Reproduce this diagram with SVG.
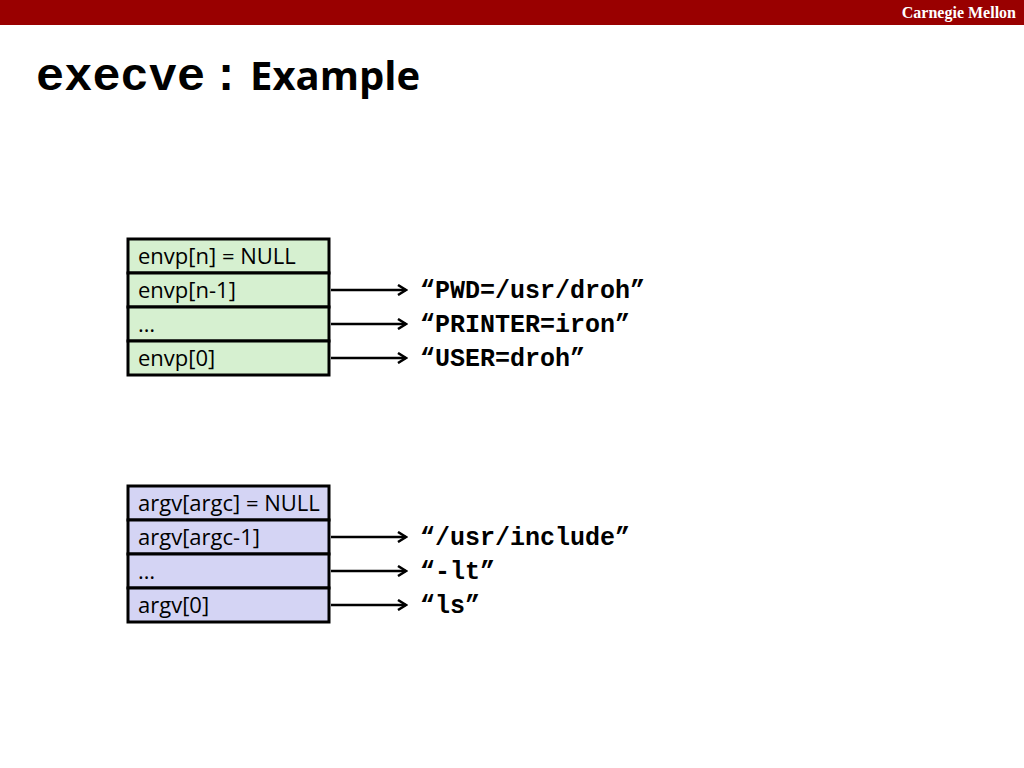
<svg xmlns="http://www.w3.org/2000/svg" width="1024" height="768" viewBox="0 0 1024 768">
<defs>
<marker id="arr" viewBox="0 0 12 12" refX="10" refY="6" markerWidth="12" markerHeight="12" markerUnits="userSpaceOnUse" orient="auto">
<path d="M2,1 L10,6 L2,11" fill="none" stroke="#000" stroke-width="2.5"/>
</marker>
<style>
.cell{stroke:#000;stroke-width:3}
.env{fill:#d6f0d0}
.arg{fill:#d4d4f4}
.lbl{font-family:"Open Sans","Liberation Sans",sans-serif;font-size:22px;fill:#000}
.code{font-family:"Liberation Mono","Courier New",monospace;font-weight:bold;font-size:25px;fill:#000}
.conn{stroke:#000;stroke-width:2.5;fill:none;marker-end:url(#arr)}
</style>
</defs>
<rect x="0" y="0" width="1024" height="25" fill="#990000"/>
<text x="1016" y="18" text-anchor="end" font-family="Liberation Serif,serif" font-weight="bold" font-size="16" fill="#fff">Carnegie Mellon</text>
<text x="36" y="90" font-family="Liberation Mono,monospace" font-weight="bold" font-size="47" fill="#000">execve</text>
<text x="212" y="90" font-family="Liberation Mono,monospace" font-weight="bold" font-size="47" fill="#000">:</text>
<text x="250" y="90" font-family="Open Sans,sans-serif" font-weight="bold" font-size="40" fill="#000">Example</text>

<g id="envp">
<g id="envp-n"><rect class="cell env" x="128" y="239" width="201" height="34"/><text class="lbl" x="138" y="264">envp[n] = NULL</text></g>
<g id="envp-n1"><rect class="cell env" x="128" y="273" width="201" height="34"/><text class="lbl" x="138" y="298">envp[n-1]</text></g>
<g id="envp-dots"><rect class="cell env" x="128" y="307" width="201" height="34"/><text class="lbl" x="138" y="332">…</text></g>
<g id="envp-0"><rect class="cell env" x="128" y="341" width="201" height="34"/><text class="lbl" x="138" y="366">envp[0]</text></g>
</g>

<g id="argv">
<g id="argv-argc"><rect class="cell arg" x="128" y="486" width="201" height="34"/><text class="lbl" x="138" y="511">argv[argc] = NULL</text></g>
<g id="argv-argc1"><rect class="cell arg" x="128" y="520" width="201" height="34"/><text class="lbl" x="138" y="545">argv[argc-1]</text></g>
<g id="argv-dots"><rect class="cell arg" x="128" y="554" width="201" height="34"/><text class="lbl" x="138" y="579">…</text></g>
<g id="argv-0"><rect class="cell arg" x="128" y="588" width="201" height="34"/><text class="lbl" x="138" y="613">argv[0]</text></g>
</g>

<g id="strings">
<text class="code" x="420" y="298">“PWD=/usr/droh”</text>
<text class="code" x="420" y="332">“PRINTER=iron”</text>
<text class="code" x="420" y="366">“USER=droh”</text>
<text class="code" x="420" y="545">“/usr/include”</text>
<text class="code" x="420" y="579">“-lt”</text>
<text class="code" x="420" y="613">“ls”</text>
</g>

<g id="connectors">
<line class="conn" x1="331" y1="290" x2="406" y2="290"/>
<line class="conn" x1="331" y1="324" x2="406" y2="324"/>
<line class="conn" x1="331" y1="358" x2="406" y2="358"/>
<line class="conn" x1="331" y1="537" x2="406" y2="537"/>
<line class="conn" x1="331" y1="571" x2="406" y2="571"/>
<line class="conn" x1="331" y1="605" x2="406" y2="605"/>
</g>
</svg>
